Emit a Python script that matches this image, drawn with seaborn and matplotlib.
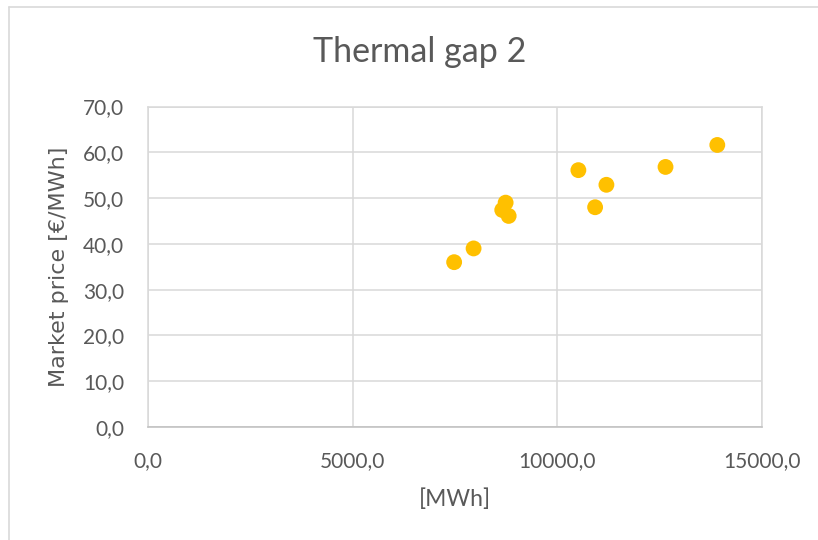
import matplotlib
matplotlib.use("Agg")
import matplotlib.pyplot as plt
from matplotlib.lines import Line2D
from matplotlib.ticker import FuncFormatter, MultipleLocator
import seaborn as sns
import pandas as pd

# Hourly thermal gap volume vs. market price
energy_mwh = [7479, 7954, 8654, 8737, 8811, 10514, 10923, 11199, 12643, 13908]
price_eur = [36.0, 39.0, 47.4, 49.0, 46.1, 56.1, 48.0, 52.9, 56.8, 61.6]

title = "Thermal gap 2"
x_label = "[MWh]"
y_label = "Market price [€/MWh]"

sns.set_theme(style="white")
plt.rcParams["font.family"] = ["Lato", "DejaVu Sans"]

TEXT = "#595959"
GRID = "#D9D9D9"
AXIS = "#BFBFBF"
GOLD = "#FFC000"

df = pd.DataFrame({"energy": energy_mwh, "price": price_eur})

fig = plt.figure(figsize=(8.18, 5.40), dpi=100)
ax = fig.add_axes([148 / 818, 1 - 427 / 540, (762 - 148) / 818, (427 - 106.5) / 540])

sns.scatterplot(data=df, x="energy", y="price", ax=ax, color=GOLD,
                s=130, edgecolor="none", linewidth=0, zorder=3, legend=False)

ax.set_xlim(0, 15000)
ax.set_ylim(0, 70)
ax.xaxis.set_major_locator(MultipleLocator(5000))
ax.yaxis.set_major_locator(MultipleLocator(10))
comma = FuncFormatter(lambda v, _: f"{v:.1f}".replace(".", ","))
ax.xaxis.set_major_formatter(comma)
ax.yaxis.set_major_formatter(comma)

ax.grid(True, color=GRID, linewidth=1.1, zorder=0)
ax.set_axisbelow(True)
for side in ("left", "right", "top"):
    ax.spines[side].set_color(GRID)
    ax.spines[side].set_linewidth(1.1)
ax.spines["bottom"].set_color(AXIS)
ax.spines["bottom"].set_linewidth(1.1)

ax.tick_params(axis="both", length=0, labelsize=15, labelcolor=TEXT)
ax.tick_params(axis="y", pad=17)
ax.tick_params(axis="x", pad=17)

ax.set_xlabel(x_label, fontsize=16.5, color=TEXT, labelpad=13)
ax.set_ylabel(y_label, fontsize=16, color=TEXT, family="DejaVu Sans", labelpad=10)

fig.text(420 / 818, 1 - 62 / 540, title, fontsize=24.5, color=TEXT,
         ha="center", va="baseline")

# chart-area frame (top and left edges)
x0, y0 = 9 / 818, 1 - 7 / 540
fig.add_artist(Line2D([x0, 1.0], [y0, y0], transform=fig.transFigure,
                      color=GRID, linewidth=1.2))
fig.add_artist(Line2D([x0, x0], [0.0, y0], transform=fig.transFigure,
                      color=GRID, linewidth=1.2))

fig.savefig("out.png", dpi=100, facecolor="white")
